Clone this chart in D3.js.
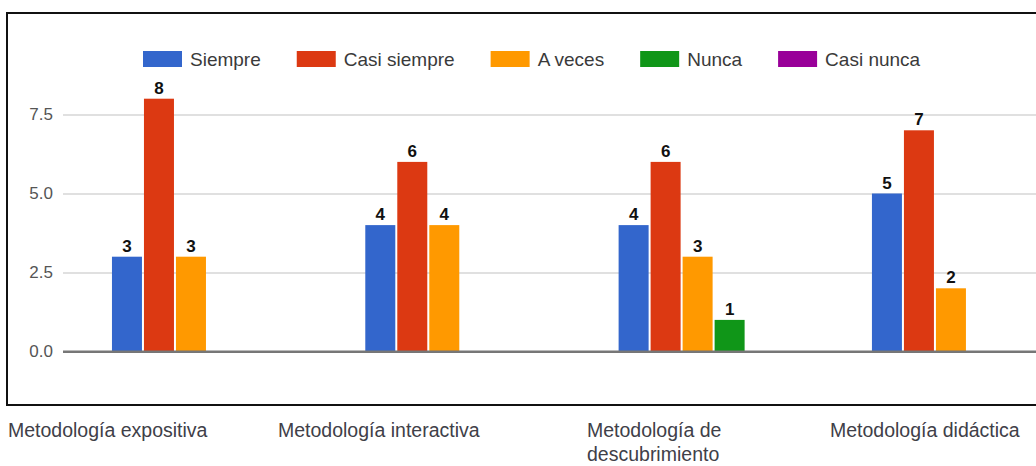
<!DOCTYPE html>
<html>
<head>
<meta charset="utf-8">
<script src="https://cdn.jsdelivr.net/npm/d3@7"></script>
<style>
  html, body { margin: 0; padding: 0; background: #fff; }
  svg { display: block; }
  text { font-family: "Liberation Sans", Arial, sans-serif; }
</style>
</head>
<body>
<svg id="chart" width="1036" height="466"></svg>
<script>
// ---- Data ----
const categories = ["Metodología expositiva", "Metodología interactiva", "Metodología de descubrimiento", "Metodología didáctica"];
const categoryLines = [["Metodología expositiva"], ["Metodología interactiva"], ["Metodología de", "descubrimiento"], ["Metodología didáctica"]];
const seriesNames = ["Siempre", "Casi siempre", "A veces", "Nunca", "Casi nunca"];
const siempre = [3, 4, 4, 5];
const casiSiempre = [8, 6, 6, 7];
const aVeces = [3, 4, 3, 2];
const nunca = [0, 0, 1, 0];
const casiNunca = [0, 0, 0, 0];
const yTicks = [0, 2.5, 5, 7.5];
const colors = ["#3366cc", "#dc3912", "#ff9900", "#109618", "#990099"];

// ---- Layout ----
const seriesValues = [siempre, casiSiempre, aVeces, nunca, casiNunca];
const svg = d3.select("#chart");
const x0 = d3.scaleBand().domain(categories).range([64.3, 1077.6]).padding(0);
const groupWidth = 158;
const x1 = d3.scaleBand().domain(seriesNames).range([0, groupWidth]).paddingInner(0.0625).paddingOuter(0);
const y = d3.scaleLinear().domain([0, 7.5]).range([351.5, 114.5]);

// frame
svg.append("rect").attr("x", 7).attr("y", 13).attr("width", 1060).attr("height", 392)
  .attr("fill", "#fff").attr("stroke", "#111").attr("stroke-width", 2);

// gridlines + tick labels
const yAxis = d3.axisLeft(y).tickValues(yTicks).tickFormat(d3.format(".1f")).tickSize(-1000).tickPadding(10);
const gAxis = svg.append("g").attr("transform", "translate(63,0)").call(yAxis);
gAxis.select(".domain").remove();
gAxis.selectAll(".tick line").attr("stroke", d => d === 0 ? "#777" : "#d6d6d6").attr("stroke-width", d => d === 0 ? 2 : 1.5);
gAxis.selectAll(".tick text").attr("fill", "#555").attr("font-size", 17)
  .attr("font-family", "'Liberation Sans', Arial, sans-serif");

// bars
const data = [];
categories.forEach((c, i) => seriesNames.forEach((s, j) => data.push({ c, s, v: seriesValues[j][i], color: colors[j] })));
const groupOffset = (x0.bandwidth() - groupWidth) / 2;
const bars = svg.append("g");
bars.selectAll("rect").data(data.filter(d => d.v > 0)).join("rect")
  .attr("x", d => x0(d.c) + groupOffset + x1(d.s))
  .attr("y", d => y(d.v))
  .attr("width", x1.bandwidth())
  .attr("height", d => y(0) - y(d.v))
  .attr("fill", d => d.color);

// redraw baseline above bars
svg.append("line").attr("x1", 63).attr("x2", 1036).attr("y1", y(0)).attr("y2", y(0))
  .attr("stroke", "#777").attr("stroke-width", 2);

// value labels
svg.append("g").selectAll("text").data(data.filter(d => d.v > 0)).join("text")
  .attr("x", d => x0(d.c) + groupOffset + x1(d.s) + x1.bandwidth() / 2)
  .attr("y", d => y(d.v) - 5)
  .attr("text-anchor", "middle")
  .attr("font-size", 17).attr("font-weight", "bold").attr("fill", "#111")
  .text(d => d.v);

// legend
const legend = svg.append("g");
let lx = 143;
seriesNames.forEach((s, j) => {
  legend.append("rect").attr("x", lx).attr("y", 51).attr("width", 39).attr("height", 16).attr("fill", colors[j]);
  const t = legend.append("text").attr("x", lx + 47).attr("y", 65.5).attr("font-size", 19).attr("fill", "#3a3a3a").text(s);
  lx += 47 + t.node().getComputedTextLength() + 36;
});

// category labels below the frame
const labelX = [8, 278, 587, 830];
categoryLines.forEach((lines, i) => {
  const t = svg.append("text").attr("x", labelX[i]).attr("y", 437).attr("font-size", 19.5).attr("fill", "#404048");
  lines.forEach((ln, k) => t.append("tspan").attr("x", labelX[i]).attr("dy", k === 0 ? 0 : 24).text(ln));
});
</script>
</body>
</html>
